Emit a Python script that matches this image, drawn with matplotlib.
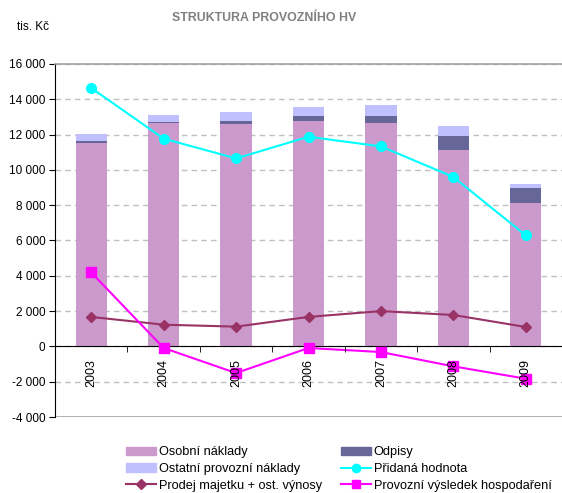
import matplotlib
matplotlib.use("Agg")
import matplotlib.pyplot as plt
import matplotlib.ticker as mticker
from matplotlib.patches import Patch
from matplotlib.lines import Line2D
import numpy as np

plt.rcParams['font.family'] = ['Liberation Sans', 'DejaVu Sans']

years = ['2003', '2004', '2005', '2006', '2007', '2008', '2009']
osobni = [11550, 12630, 12620, 12790, 12670, 11140, 8140]
odpisy = [60, 60, 170, 280, 400, 800, 860]
ostatni = [440, 440, 510, 510, 630, 570, 220]
pridana = [14640, 11770, 10650, 11880, 11330, 9600, 6290]
prodej = [1670, 1230, 1120, 1670, 2000, 1780, 1100]
provozni = [4190, -90, -1510, -90, -320, -1130, -1830]

c_os = '#CC99CC'
c_od = '#666699'
c_ot = '#C0C0FF'
c_pr = '#00FFFF'
c_pm = '#993366'
c_vh = '#FF00FF'

fig = plt.figure(figsize=(5.62, 4.93), dpi=100)
ax = fig.add_axes([55/562, 76/493, 507/562, 353/493])

x = np.arange(len(years))
w = 0.43
b1 = np.array(osobni)
b2 = b1 + np.array(odpisy)
ax.bar(x, osobni, w, color=c_os, zorder=2)
ax.bar(x, odpisy, w, bottom=b1, color=c_od, zorder=2)
ax.bar(x, ostatni, w, bottom=b2, color=c_ot, zorder=2)

ax.plot(x, pridana, color=c_pr, lw=1.5, marker='o', ms=7, zorder=4)
ax.plot(x, prodej, color=c_pm, lw=1.5, marker='D', ms=5.5, zorder=4)
ax.plot(x, provozni, color=c_vh, lw=1.5, marker='s', ms=6.5, zorder=4)

ax.set_xlim(-0.5, len(years) - 0.5)
ax.set_ylim(-4000, 16000)
ax.yaxis.set_major_locator(mticker.MultipleLocator(2000))
ax.yaxis.set_major_formatter(mticker.FuncFormatter(
    lambda v, p: ('-' if v < 0 else '') + '{:,.0f}'.format(abs(v)).replace(',', ' ')))
ax.grid(axis='y', color='#c0c0c0', linestyle=(0, (4, 3)), lw=1, zorder=0)
ax.axhline(-4000, color='#a0a0a0', lw=1.2, zorder=1)

for s in ['right']:
    ax.spines[s].set_visible(False)
ax.spines['top'].set_color('#a0a0a0')
ax.spines['top'].set_linewidth(1.2)
ax.spines['left'].set_color('black')
ax.spines['bottom'].set_position(('data', 0))
ax.spines['bottom'].set_color('black')
ax.spines['bottom'].set_zorder(3)

ax.set_xticks(x)
ax.set_xticklabels(years, rotation=90, fontsize=9)
ax.set_xticks(np.arange(0.5, len(years) - 0.5, 1), minor=True)
ax.tick_params(axis='x', which='major', length=0, pad=9)
ax.tick_params(axis='x', which='minor', length=4, direction='out', color='black')
ax.tick_params(axis='y', length=4, labelsize=8.5, color='black', pad=3)
for lbl in ax.get_xticklabels():
    lbl.set_va('top')
ax.xaxis.set_zorder(5)

fig.text(264/562, 1 - 18/493, 'STRUKTURA PROVOZNÍHO HV', ha='center', va='center',
         fontsize=8.9, fontweight='bold', color='#808080')
fig.text(17/562, 1 - 27/493, 'tis. Kč', ha='left', va='center', fontsize=8.5)

handles = [
    Patch(color=c_os, label='Osobní náklady'),
    Patch(color=c_ot, label='Ostatní provozní náklady'),
    Line2D([], [], color=c_pm, lw=1.5, marker='D', ms=5, label='Prodej majetku + ost. výnosy'),
    Patch(color=c_od, label='Odpisy'),
    Line2D([], [], color=c_pr, lw=1.5, marker='o', ms=6, label='Přidaná hodnota'),
    Line2D([], [], color=c_vh, lw=1.5, marker='s', ms=6, label='Provozní výsledek hospodaření'),
]
fig.legend(handles=handles, ncol=2, loc='upper left', bbox_to_anchor=(120/562, 1 - 440/493),
           frameon=False, fontsize=9.2, handlelength=2.3, handleheight=0.6,
           handletextpad=0.25, columnspacing=1.5, labelspacing=0.36, borderpad=0)

fig.savefig('out.png', dpi=100)
